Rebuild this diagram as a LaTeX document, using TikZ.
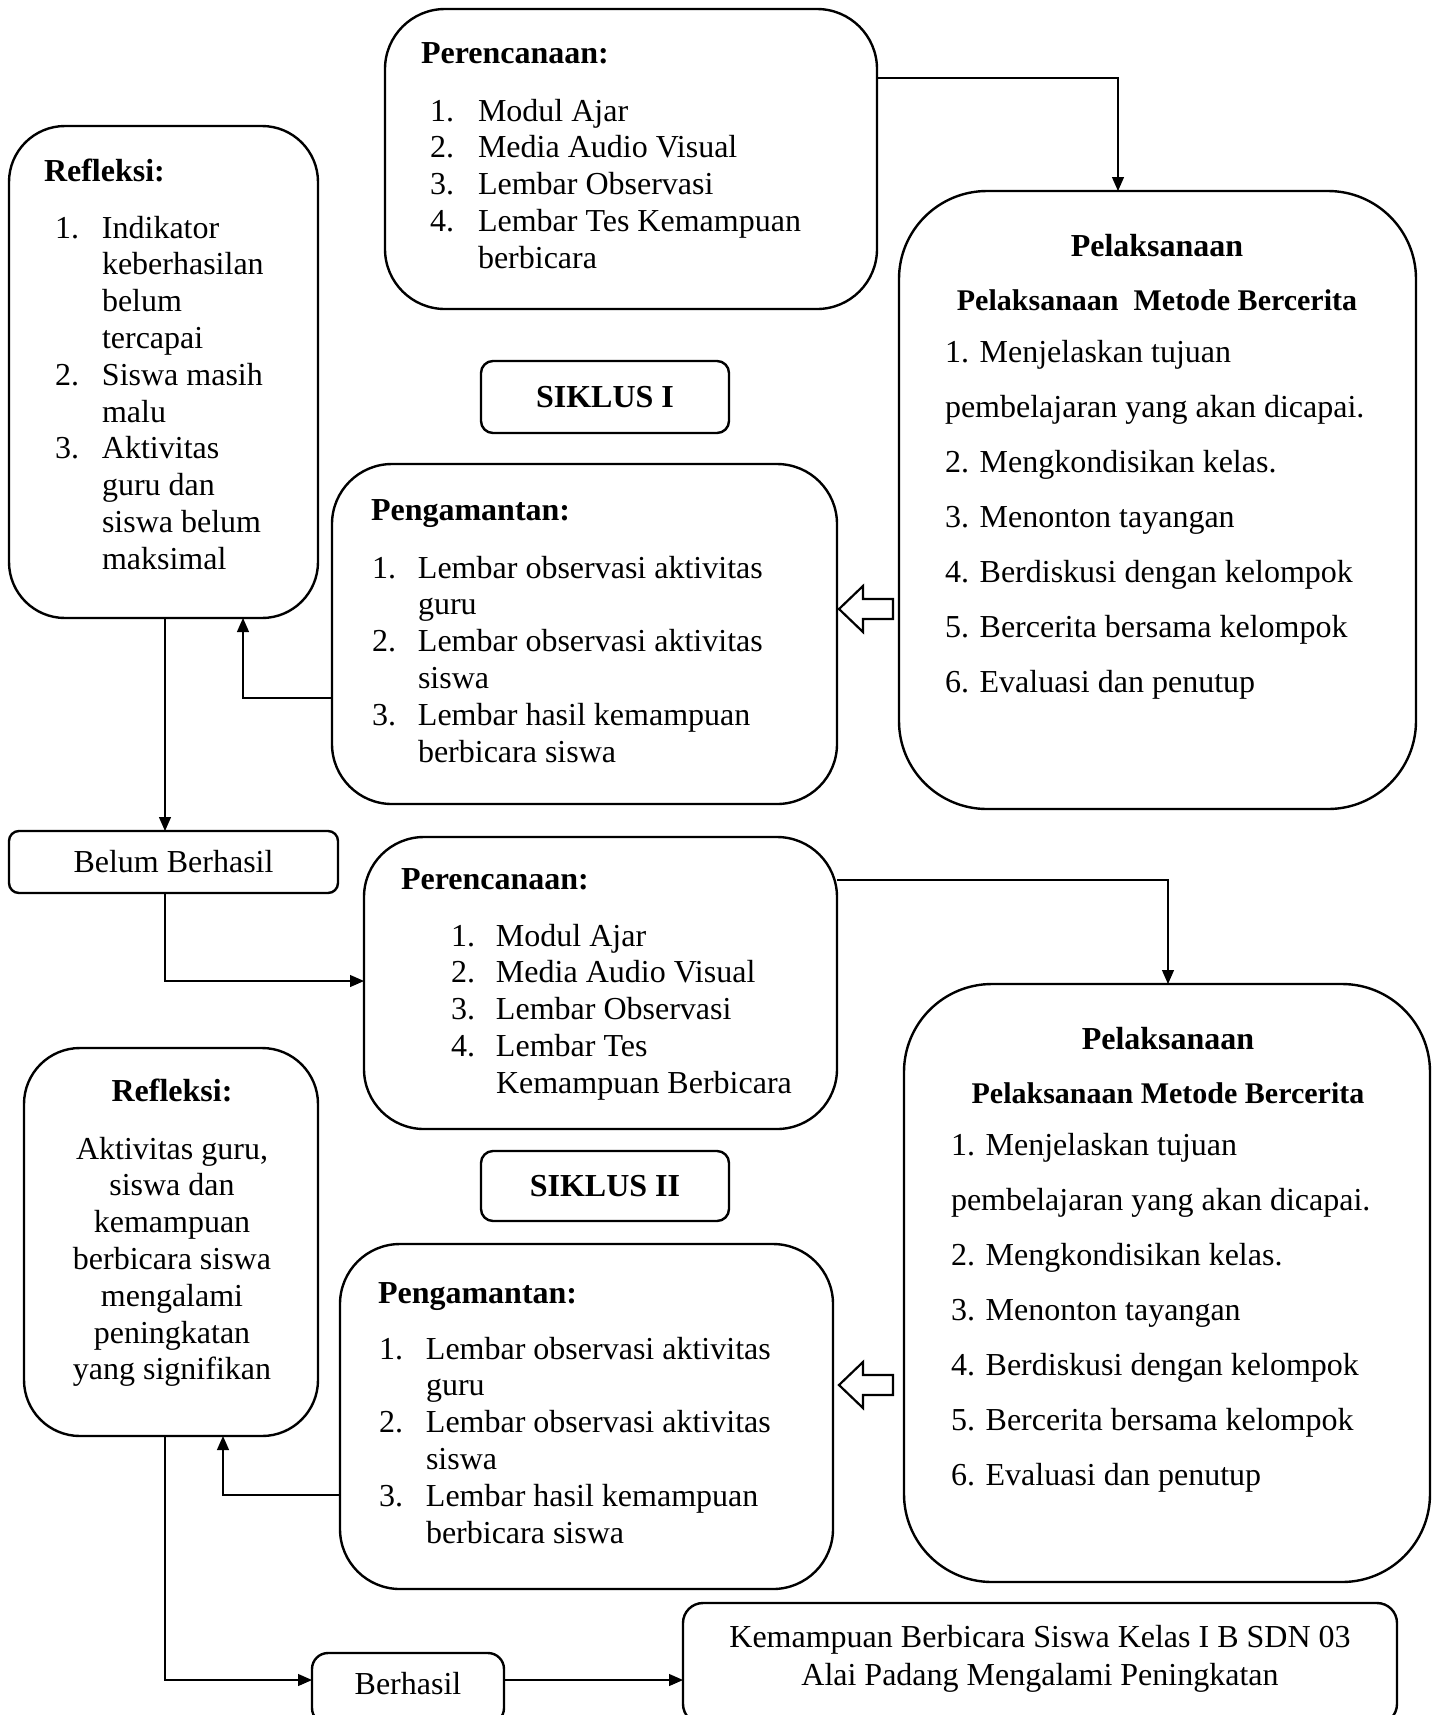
\documentclass[tikz,border=0pt]{standalone}
\usepackage{fontspec}
\setmainfont{Liberation Serif}
\usetikzlibrary{calc,arrows.meta}
\tikzset{
 box/.style={draw, line width=1.2pt, inner sep=0pt, outer sep=0pt},
 txt/.style={inner sep=0pt, outer sep=0pt, anchor=base west},
 ctxt/.style={inner sep=0pt, outer sep=0pt, anchor=base},
 conn/.style={line width=0.6pt, -{Triangle[length=7pt,width=6pt]}},
 hollow/.style={draw, line width=1.1pt, fill=white, line join=miter},
}
\newcommand\mkbox[7]{\node[box, rounded corners=#6pt, minimum width={(#4-#2)*0.5pt}, minimum height={(#5-#3)*0.5pt}] (#1) at ({(#2+#4)/2},{(#3+#5)/2}) {#7};}
\newcommand\lst[2]{\begin{tabular}[t]{@{}p{#1}@{}l@{}}#2\end{tabular}}
\newcommand\pellist{\begin{tabular}[t]{@{}l@{}}1. Menjelaskan tujuan\\ pembelajaran yang akan dicapai.\\ 2. Mengkondisikan kelas.\\ 3. Menonton tayangan\\ 4. Berdiskusi dengan kelompok\\ 5. Bercerita bersama kelompok\\ 6. Evaluasi dan penutup\end{tabular}}
\begin{document}
\begin{tikzpicture}[x=0.5pt,y=-0.5pt,font=\fontsize{16pt}{18.4pt}\selectfont]
\useasboundingbox (0,0) rectangle (1438,1715);
% boxes
\mkbox{per1}{385}{9}{877}{309}{30}{}
\mkbox{ref1}{9}{126}{318}{618}{28}{}
\mkbox{pel1}{899}{191}{1416}{809}{44}{}
\mkbox{s1}{481}{361}{729}{433}{6}{\bfseries SIKLUS I}
\mkbox{pg1}{332}{464}{837}{804}{30}{}
\mkbox{bb}{9}{831}{338}{893}{5}{Belum Berhasil}
\mkbox{per2}{364}{837}{837}{1129}{30}{}
\mkbox{pel2}{904}{984}{1430}{1582}{44}{}
\mkbox{ref2}{24}{1048}{318}{1436}{28}{}
\mkbox{s2}{481}{1151}{729}{1221}{6}{\bfseries SIKLUS II}
\mkbox{pg2}{340}{1244}{833}{1589}{30}{}
\mkbox{bh}{312}{1653}{504}{1724}{8}{}
\mkbox{km}{683}{1603}{1397}{1724}{10}{}
% texts
\node[txt] (per1h) at (421,63) {\bfseries Perencanaan:};
\node[txt] (per1l) at (430,121) {\lst{24pt}{1. & Modul Ajar\\ 2. & Media Audio Visual\\ 3. & Lembar Observasi\\ 4. & Lembar Tes Kemampuan\\ & berbicara}};
\node[txt] (ref1h) at (44,181) {\bfseries Refleksi:};
\node[txt] (ref1l) at (55,238) {\lst{23.5pt}{1. & Indikator\\ & keberhasilan\\ & belum\\ & tercapai\\ 2. & Siswa masih\\ & malu\\ 3. & Aktivitas\\ & guru dan\\ & siswa belum\\ & maksimal}};
\node[ctxt] (pel1h) at (1157,256) {\bfseries Pelaksanaan};
\node[ctxt] (pel1s) at (1157,310) {\fontsize{15pt}{18pt}\selectfont\bfseries Pelaksanaan~~Metode Bercerita};
\node[txt, font=\fontsize{16pt}{27.5pt}\selectfont] (pel1l) at (945,362) {\pellist};
\node[txt] (pg1h) at (371,520) {\bfseries Pengamantan:};
\node[txt] (pg1l) at (372,578) {\lst{23pt}{1. & Lembar observasi aktivitas\\ & guru\\ 2. & Lembar observasi aktivitas\\ & siswa\\ 3. & Lembar hasil kemampuan\\ & berbicara siswa}};
\node[txt] (per2h) at (401,889) {\bfseries Perencanaan:};
\node[txt] (per2l) at (451,946) {\lst{22.5pt}{1. & Modul Ajar\\ 2. & Media Audio Visual\\ 3. & Lembar Observasi\\ 4. & Lembar Tes\\ & Kemampuan Berbicara}};
\node[ctxt] (pel2h) at (1168,1049) {\bfseries Pelaksanaan};
\node[ctxt] (pel2s) at (1168,1103) {\fontsize{15pt}{18pt}\selectfont\bfseries Pelaksanaan Metode Bercerita};
\node[txt, font=\fontsize{16pt}{27.5pt}\selectfont] (pel2l) at (951,1155) {\pellist};
\node[ctxt] (ref2h) at (172,1101) {\bfseries Refleksi:};
\node[ctxt] (ref2l) at (172,1159) {\begin{tabular}[t]{@{}c@{}}Aktivitas guru,\\ siswa dan\\ kemampuan\\ berbicara siswa\\ mengalami\\ peningkatan\\ yang signifikan\end{tabular}};
\node[txt] (pg2h) at (378,1303) {\bfseries Pengamantan:};
\node[txt] (pg2l) at (379,1359) {\lst{23.5pt}{1. & Lembar observasi aktivitas\\ & guru\\ 2. & Lembar observasi aktivitas\\ & siswa\\ 3. & Lembar hasil kemampuan\\ & berbicara siswa}};
\node[ctxt] (bht) at (408,1694) {Berhasil};
\node[ctxt, font=\fontsize{16pt}{19pt}\selectfont] (kmt) at (1040,1647) {\begin{tabular}[t]{@{}c@{}}Kemampuan Berbicara Siswa Kelas I B SDN 03\\ Alai Padang Mengalami Peningkatan\end{tabular}};
% connector waypoints
\coordinate (c1) at (1118,78);
\coordinate (c3) at (243,698);
\coordinate (c4) at (165,0);
\coordinate (c5) at (165,981);
\coordinate (c6) at (1168,880);
\coordinate (c8) at (223,1495);
\coordinate (c9) at (165,1680);
\coordinate (b1) at (0,609);
\coordinate (b2) at (0,1385);
% connectors
\draw[conn] (per1.east |- c1) -| (c1 |- pel1.north);
\draw[conn] (pg1.west |- c3) -| (c3 |- ref1.south);
\draw[conn] (ref1.south -| c4) -- (c4 |- bb.north);
\draw[conn] (bb.south -| c5) |- (per2.west |- c5);
\draw[conn] (per2.east |- c6) -| (c6 |- pel2.north);
\draw[conn] (pg2.west |- c8) -| (c8 |- ref2.south);
\draw[conn] (ref2.south -| c9) |- (bh.west |- c9);
\draw[conn] (bh.east |- c9) -- (km.west |- c9);
% hollow block arrows
\draw[hollow] ($(pel1.west |- b1)+(-6,-10)$) -- ++(-30,0) -- ++(0,-13) -- ++(-24,23) -- ++(24,23) -- ++(0,-13) -- ++(30,0) -- cycle;
\draw[hollow] ($(pel2.west |- b2)+(-11,-10)$) -- ++(-30,0) -- ++(0,-13) -- ++(-24,23) -- ++(24,23) -- ++(0,-13) -- ++(30,0) -- cycle;
\end{tikzpicture}
\end{document}
